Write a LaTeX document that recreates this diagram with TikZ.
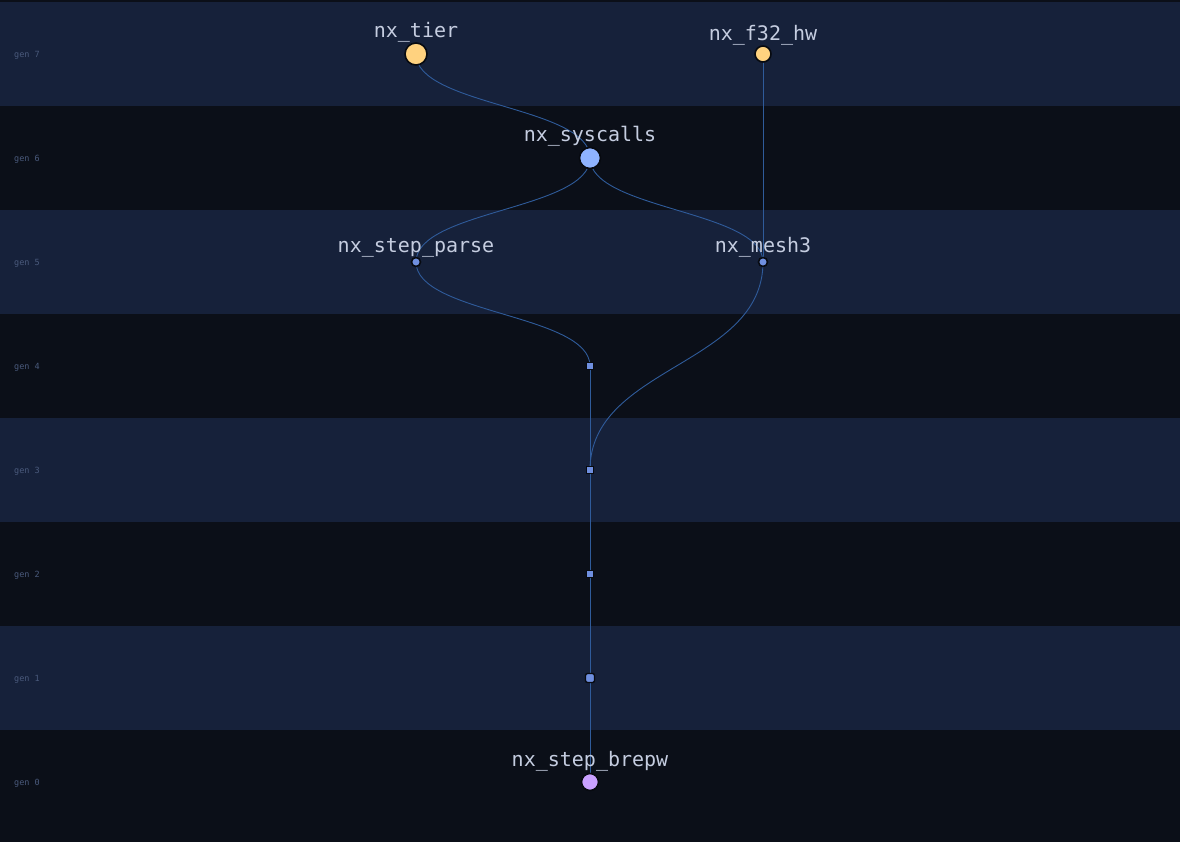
\documentclass[tikz,border=0pt]{standalone}
\usepackage{fontspec}
\newfontfamily\pixfont{DejaVu Sans Mono}
\pgfdeclarelayer{bg}
\pgfdeclarelayer{edges}
\pgfsetlayers{bg,edges,main}
\definecolor{bandlight}{HTML}{16213A}
\definecolor{banddark}{HTML}{0B0F18}
\definecolor{edgecol}{HTML}{2F5B9A}
\definecolor{lblcol}{HTML}{C5CDE0}
\definecolor{gencol}{HTML}{4A5A7C}
\definecolor{yellowfill}{HTML}{FFD27F}
\definecolor{bluefill}{HTML}{8FB3FF}
\definecolor{midblue}{HTML}{6F8FDF}
\definecolor{purplefill}{HTML}{C9A0FF}
\definecolor{outl}{HTML}{070A10}
\tikzset{
  vtx/.style={circle,draw=outl,line width=1.6bp,inner sep=0pt},
  dum/.style={rectangle,draw=outl,line width=1.4bp,fill=midblue,inner sep=0pt,minimum size=7.5bp},
  lbl/.style={anchor=base,text=lblcol,font=\pixfont\fontsize{20bp}{20bp}\selectfont,inner sep=0pt},
  genlbl/.style={anchor=base west,text=gencol,font=\pixfont\fontsize{8.5bp}{9bp}\selectfont,inner sep=0pt},
  conn/.style={draw=edgecol,line width=0.9bp}
}
\begin{document}
\begin{tikzpicture}[x=1bp,y=-1bp]
\begin{pgfonlayer}{bg}
\fill[banddark] (0,0) rectangle (1180,842);
\fill[bandlight] (0,2) rectangle (1180,106);
\fill[bandlight] (0,210) rectangle (1180,314);
\fill[bandlight] (0,418) rectangle (1180,522);
\fill[bandlight] (0,626) rectangle (1180,730);
\end{pgfonlayer}
\useasboundingbox (0,0) rectangle (1180,842);
% generation labels
\node[genlbl] (g7) at (14,57) {gen 7};
\node[genlbl] (g6) at (14,161) {gen 6};
\node[genlbl] (g5) at (14,265) {gen 5};
\node[genlbl] (g4) at (14,369) {gen 4};
\node[genlbl] (g3) at (14,473) {gen 3};
\node[genlbl] (g2) at (14,577) {gen 2};
\node[genlbl] (g1) at (14,681) {gen 1};
\node[genlbl] (g0) at (14,785) {gen 0};
% vertices
\node[vtx,fill=yellowfill,minimum size=22bp] (tier) at (416,54) {};
\node[vtx,fill=yellowfill,minimum size=16bp] (f32) at (763,54) {};
\node[vtx,fill=bluefill,minimum size=21bp] (sys) at (590,158) {};
\node[vtx,fill=midblue,minimum size=9bp] (parse) at (416,262) {};
\node[vtx,fill=midblue,minimum size=9bp] (mesh) at (763,262) {};
\node[dum] (d4) at (590,366) {};
\node[dum] (d3) at (590,470) {};
\node[dum] (d2) at (590,574) {};
\node[dum,rounded corners=2bp,minimum size=9bp] (d1) at (590,678) {};
\node[vtx,fill=purplefill,minimum size=17bp] (brepw) at (590,782) {};
% labels
\node[lbl] (tierL) at (416,37) {nx\_tier};
\node[lbl] (f32L) at (763,40) {nx\_f32\_hw};
\node[lbl] (sysL) at (590,141) {nx\_syscalls};
\node[lbl] (parseL) at (416,252) {nx\_step\_parse};
\node[lbl] (meshL) at (763,252) {nx\_mesh3};
\node[lbl] (brepwL) at (590,766) {nx\_step\_brepw};
% connectors
\begin{pgfonlayer}{edges}
\draw[conn] (tier.center) .. controls (416,106) and (590,106) .. (sys.center);
\draw[conn] (f32.center) -- (mesh.center);
\draw[conn] (sys.center) .. controls (590,210) and (416,210) .. (parse.center);
\draw[conn] (sys.center) .. controls (590,210) and (763,210) .. (mesh.center);
\draw[conn] (parse.center) .. controls (416,314) and (590,314) .. (d4.center);
\draw[conn] (mesh.center) .. controls (763,366) and (590,366) .. (d3.center);
\draw[conn] (d4.center) -- (d3.center);
\draw[conn] (d3.center) -- (d2.center);
\draw[conn] (d2.center) -- (d1.center);
\draw[conn] (d1.center) -- (brepw.center);
\end{pgfonlayer}
\end{tikzpicture}
\end{document}
